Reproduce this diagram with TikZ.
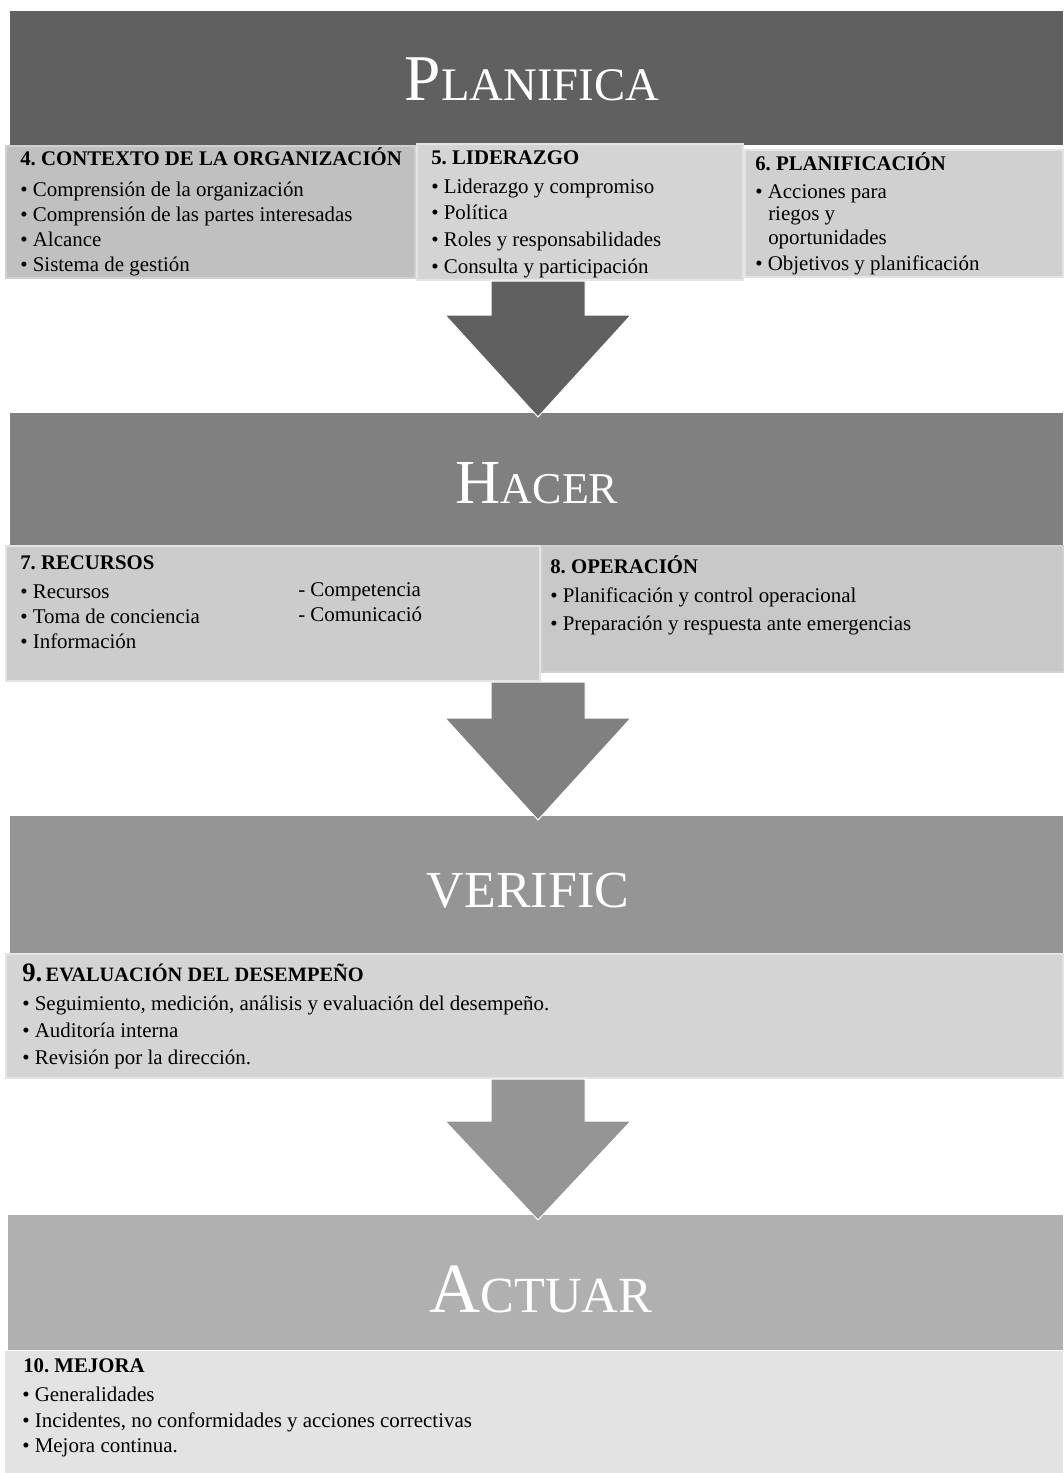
\documentclass[tikz,border=0pt]{standalone}
\usepackage{fontspec}
\setmainfont{Liberation Serif}
\usepackage{tikz}
\frenchspacing

\definecolor{planband}{RGB}{96,96,96}
\definecolor{hacband}{RGB}{128,128,128}
\definecolor{verband}{RGB}{149,149,149}
\definecolor{actband}{RGB}{176,176,176}
\definecolor{boxA}{RGB}{192,192,192}
\definecolor{boxB}{RGB}{212,212,212}
\definecolor{boxC}{RGB}{208,208,208}
\definecolor{boxD}{RGB}{204,204,204}
\definecolor{boxE}{RGB}{200,200,200}
\definecolor{boxF}{RGB}{227,227,227}
\definecolor{rimA}{RGB}{208,208,208}
\definecolor{rimB}{RGB}{228,228,228}

% title in big first letter + small capitals
\newcommand{\phasetitle}[4]{{\fontsize{#3}{50}\selectfont #1}{\fontsize{#4}{36}\selectfont #2}}

\begin{document}
\begin{tikzpicture}[x=0.75pt,y=0.75pt,yscale=-1,xscale=1,
    title/.style={text=white, anchor=base, inner sep=0.75pt},
    head/.style={anchor=base west, inner sep=0pt, font=\bfseries\fontsize{15.6}{18}\selectfont},
    item/.style={anchor=base west, inner sep=0pt, font=\fontsize{15.7}{18}\selectfont},
    subbox/.style={line width=2.2pt},
    blockarrow/.style={draw=white, line width=0.75}]
    \useasboundingbox (0,0) rectangle (1063,1473);
    \fill[white] (0,0) rectangle (1063,1473);

    %Bands
    \fill[planband] (10,11) rectangle (1063,145);
    \fill[hacband] (10,413) rectangle (1063,545);
    \fill[verband] (10,816) rectangle (1063,953);
    \fill[actband] (8,1215) rectangle (1063,1350);

    %Boxes under PLANIFICA
    \draw[subbox, fill=boxA, draw=rimA] (6,146) rectangle (415,278);
    \draw[subbox, fill=boxB, draw=rimB] (417,144) rectangle (743,280);
    \draw[subbox, fill=boxC, draw=rimB] (745,150) rectangle (1063,277);
    %Boxes under HACER
    \draw[subbox, fill=boxD, draw=rimB] (6,546) rectangle (540,681);
    \draw[subbox, fill=boxE, draw=rimA] (542,546) rectangle (1063,672);
    %Box under VERIFIC
    \draw[subbox, fill=boxB, draw=rimB] (6,954) rectangle (1063,1078);
    %Box under ACTUAR
    \fill[boxF] (5,1351) rectangle (1063,1473);

    %Block arrows
    \filldraw[blockarrow, fill=planband] (491,281) -- (585,281) -- (585,315) -- (631,315) -- (538,417) -- (445,315) -- (491,315) -- cycle;
    \filldraw[blockarrow, fill=hacband] (491,682) -- (585,682) -- (585,718) -- (631,718) -- (538,820) -- (445,718) -- (491,718) -- cycle;
    \filldraw[blockarrow, fill=verband] (491,1079) -- (585,1079) -- (585,1121) -- (631,1121) -- (538,1220) -- (445,1121) -- (491,1121) -- cycle;

    % Titles
    \node[title] (planifica) at (532,101) {\phasetitle{P}{LANIFICA}{49}{35}};
    \node[title] (hacer) at (537,503) {\phasetitle{H}{ACER}{47}{33}};
    \node[title, font=\fontsize{39}{42}\selectfont] (verific) at (528,907) {VERIFIC};
    \node[title] (actuar) at (541,1312) {\phasetitle{A}{CTUAR}{53}{38}};

    % 4. Contexto
    \node[head] (c4) at (20,166) {4. CONTEXTO DE LA ORGANIZACIÓN};
    \foreach \txt [count=\i] in {Comprensión de la organización, Comprensión de las partes interesadas, Alcance, Sistema de gestión}
        \node[item] (c4-\i) at (20,172+25*\i) {\textbullet\ \txt};

    % 5. Liderazgo
    \node[head] (c5) at (431,165) {5. LIDERAZGO};
    \foreach \txt [count=\i] in {Liderazgo y compromiso, Política, Roles y responsabilidades, Consulta y participación}
        \node[item] (c5-\i) at (431,167+26.5*\i) {\textbullet\ \txt};

    % 6. Planificacion
    \node[head] (c6) at (755,171) {6. PLANIFICACIÓN};
    \node[item] (c6-1) at (755,199) {\textbullet\ Acciones para};
    \node[item] (c6-2) at (768,221) {riegos y};
    \node[item] (c6-3) at (768,244) {oportunidades};
    \node[item] (c6-4) at (755,271) {\textbullet\ Objetivos y planificación};

    % 7. Recursos
    \node[head] (c7) at (20,569) {7. RECURSOS};
    \foreach \txt [count=\i] in {Recursos, Toma de conciencia, Información}
        \node[item] (c7-\i) at (20,573+25*\i) {\textbullet\ \txt};
    \node[item] (c7-a) at (298,596) {- Competencia};
    \node[item] (c7-b) at (298,621) {- Comunicació};

    % 8. Operacion
    \node[head] (c8) at (550,573) {8. OPERACIÓN};
    \node[item] (c8-1) at (550,602) {\textbullet\ Planificación y control operacional};
    \node[item] (c8-2) at (550,630) {\textbullet\ Preparación y respuesta ante emergencias};

    % 9. Evaluacion
    \node[head, font=\bfseries\fontsize{15.3}{18}\selectfont] (c9) at (22,981) {{\fontsize{20}{22}\selectfont 9.}\,EVALUACIÓN DEL DESEMPEÑO};
    \foreach \txt [count=\i] in {{Seguimiento, medición, análisis y evaluación del desempeño.}, Auditoría interna, Revisión por la dirección.}
        \node[item] (c9-\i) at (22,983+27*\i) {\textbullet\ \txt};

    % 10. Mejora
    \node[head] (c10) at (23,1372) {10. MEJORA};
    \foreach \txt [count=\i] in {Generalidades, {Incidentes, no conformidades y acciones correctivas}, Mejora continua.}
        \node[item] (c10-\i) at (22,1376+25.5*\i) {\textbullet\ \txt};
\end{tikzpicture}
\end{document}
